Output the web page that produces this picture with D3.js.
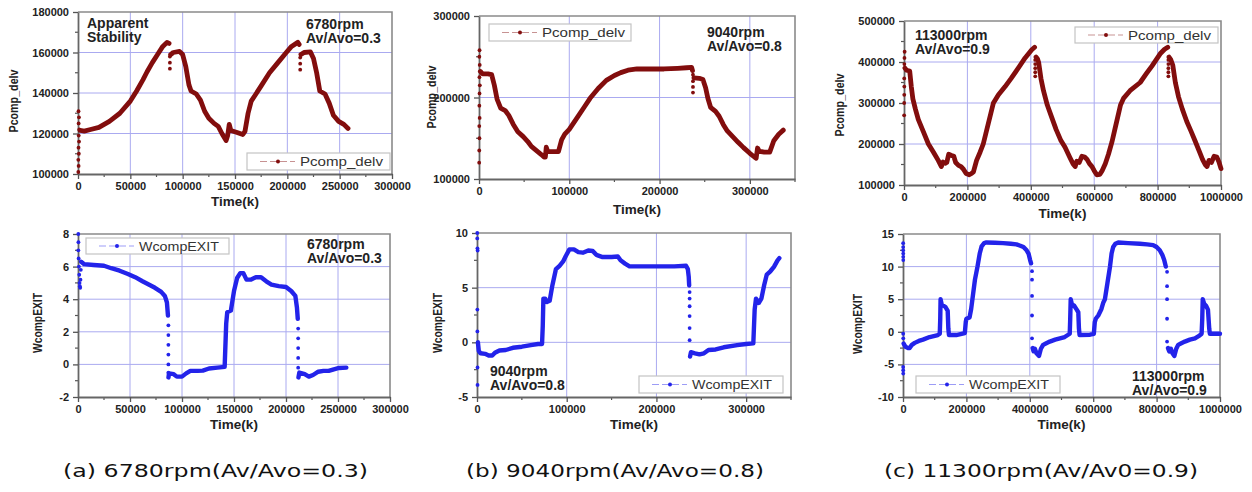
<!DOCTYPE html>
<html><head><meta charset="utf-8">
<script src="https://cdn.jsdelivr.net/npm/d3@7"></script>
<style>body{margin:0;background:#fff}svg{display:block}</style>
</head><body><svg id="c" width="1252" height="492"></svg>
<script>
// ---------- DATA ----------
// (a) 6780 rpm, Pcomp_delv
const pA = [[2000,121500],[6000,121200],[12000,122000],[20000,123000],[30000,126000],[40000,130000],[50000,136000],[56000,141000],[62000,146500],[66000,150500],[71000,155000],[76000,159000],[81000,163000],[85000,165000],[87000,164500],null,
[88500,159000],[91000,160000],[97000,160500],[100000,159000],[103000,153000],[106000,144000],[108000,141000],[113000,139500],[117000,136500],[121000,131000],[125000,127500],[130000,125000],[134000,123500],[137500,120000],[141500,116500],[143000,119000],[144500,124500],[146000,121500],[152000,120500],[157500,119500],[159500,121000],[162500,130000],[165500,136000],[170000,139500],[175000,143500],[183000,150000],[191000,155000],[199000,160000],[204000,163000],[210000,165000],[211300,164000],null,
[213000,159000],[216000,160000],[222000,160300],[225000,157000],[228000,150000],[231000,141000],[236000,139500],[240000,135000],[244000,129000],[249000,126000],[254000,124500],[258000,122500]];
const pADots = [[300,101000],[600,104000],[300,107000],[800,110000],[500,113000],[1000,116000],[700,119000],[1200,122000],[600,125000],[900,128000],[500,131000],[87800,152000],[87800,155000],[87800,158000],[212300,151500],[212300,154500],[212300,157500]];
// (a) 6780 rpm, WcompEXIT
const wA = [[3000,6.3],[6000,6.15],[15000,6.1],[25000,6.05],[32000,5.9],[40000,5.75],[48000,5.55],[55000,5.35],[62000,5.1],[68000,4.9],[74000,4.7],[80000,4.45],[83500,4.2],[85500,3.8],[86500,3.0],null,
[87000,-0.8],[87500,-0.55],[92000,-0.6],[95000,-0.75],[100000,-0.75],[104000,-0.55],[108000,-0.4],[115000,-0.4],[120000,-0.38],[126000,-0.25],[134000,-0.2],[141000,-0.15],[142500,2.5],[143500,3.2],[147000,3.3],[150000,4.5],[153000,5.3],[156000,5.6],[159000,5.6],[162000,5.2],[166000,5.2],[171000,5.35],[176000,5.35],[181000,5.1],[186000,4.9],[193000,4.8],[200000,4.75],[205000,4.5],[209000,4.2],[210500,3.5],[211300,2.8],null,
[212000,-0.8],[212800,-0.5],[218000,-0.6],[222000,-0.75],[226000,-0.65],[231000,-0.45],[236000,-0.4],[241000,-0.4],[246000,-0.3],[251000,-0.22],[258000,-0.2]];
const wADots = [[300,8.0],[400,7.5],[300,7.0],[600,6.5],[900,6.0],[1200,5.5],[1500,5.0],[1800,4.8],[2100,4.7],[2400,5.2],[2700,5.8],[86900,2.4],[86900,1.8],[86900,1.2],[86900,0.6],[86900,0.0],[86900,-0.5],[211700,2.2],[211700,1.6],[211700,1.0],[211700,0.4],[211700,-0.2]];

// (b) 9040 rpm, Pcomp_delv
const pB = [[1500,232000],[4000,229000],[10000,229000],[14000,228000],[17000,215000],[20000,198000],[24000,187000],[29000,184000],[33000,178000],[38000,167000],[43000,158000],[49000,152000],[54000,146000],[58000,140000],[64000,134500],[69000,130000],[72000,127000],[73500,127000],[74500,139000],[76000,134000],[82000,133500],[88000,133500],[91500,148000],[95000,155000],[100000,161000],[108000,174000],[117000,189000],[123000,199000],[132000,211000],[141000,221000],[150000,227000],[157000,230500],[165000,233500],[175000,235000],[190000,235000],[205000,235000],[220000,235800],[230000,236500],[235500,237000],[236500,233000],null,
[238000,224000],[244000,223500],[248000,222000],[251000,212000],[253500,199000],[256500,188000],[262000,183000],[266000,177000],[270500,167000],[275000,159000],[281000,152000],[287000,145000],[293000,138500],[300000,131500],[305000,127000],[307000,125500],[308500,138000],[310500,134000],[316000,133000],[322000,133000],[326500,147000],[332000,155000],[337000,160000]];
const pBDots = [[200,120000],[300,135000],[500,150000],[300,165000],[700,175000],[400,190000],[600,205000],[900,215000],[500,225000],[800,240000],[400,250000],[600,258000],[237000,228000],[237000,220000],[237000,213000],[237000,206000]];
// (b) 9040 rpm, WcompEXIT
const wB = [[1000,0],[2000,-0.8],[4000,-1.0],[9000,-1.05],[13000,-1.2],[17000,-1.2],[20000,-0.95],[25000,-0.75],[32000,-0.7],[40000,-0.5],[50000,-0.4],[60000,-0.25],[68000,-0.15],[72500,-0.15],[73300,1.5],[74000,4.0],[76000,4.0],[78000,3.7],[81000,3.8],[84000,5.2],[88000,6.7],[92000,7.0],[96000,7.4],[99000,7.9],[103000,8.5],[108000,8.5],[113000,8.25],[118000,8.2],[124000,8.4],[129000,8.35],[133000,8.0],[140000,7.8],[150000,7.8],[157000,7.85],[160000,7.5],[165000,7.2],[170000,6.95],[190000,6.95],[220000,6.95],[233000,7.0],[235000,6.7],[236000,6.0],[236500,5.2],null,
[237500,-1.3],[238500,-0.9],[243000,-1.0],[248000,-1.1],[253000,-1.0],[258000,-0.7],[266000,-0.65],[275000,-0.45],[290000,-0.25],[300000,-0.15],[308000,-0.1],[309500,3.0],[311000,4.0],[314000,3.6],[317000,4.0],[320000,5.2],[323000,6.2],[327000,6.5],[331000,6.9],[335000,7.5],[337000,7.7]];
const wBDots = [[300,10],[300,9.5],[500,8.6],[700,8.4],[400,3.0],[400,1.0],[600,-2.3],[600,-3.9],[237000,4.6],[237000,4.0],[237000,3.3],[237000,2.4],[237000,1.3],[237000,0.2]];

// (c) 11300 rpm, Pcomp_delv
const pC = [[3000,385000],[8000,380000],[18000,378000],[23000,340000],[28000,310000],[36000,285000],[45000,260000],[61000,230000],[77000,200000],[93000,180000],[108000,160000],[118000,145000],[123000,156000],[130000,153000],[135000,155000],[141000,175000],[150000,172000],[157000,170000],[163000,155000],[172000,148000],[180000,145000],[188000,138000],[196000,128000],[206000,125000],[213000,128000],[219000,132000],[229000,160000],[240000,180000],[250000,200000],[258000,225000],[266000,250000],[274000,275000],[282000,300000],[298000,320000],[319000,340000],[338000,360000],[356000,380000],[382000,410000],[403000,430000],[412000,436000],null,
[416500,412000],[421000,408000],[425000,398000],[432000,360000],[440000,330000],[452000,295000],[466000,265000],[480000,235000],[494000,210000],[508000,192000],[524000,166000],[533000,152000],[540000,145000],[545000,158000],[553000,155000],[561000,170000],[570000,168000],[577000,163000],[585000,152000],[593000,145000],[600000,135000],[608000,125000],[618000,126000],[625000,135000],[635000,152000],[645000,175000],[656000,205000],[665000,235000],[674000,265000],[683000,295000],[693000,312000],[713000,330000],[745000,350000],[765000,372000],[782000,390000],[808000,420000],[822000,431000],[832000,436000],null,
[836000,412000],[842000,405000],[848000,392000],[856000,350000],[866000,315000],[878000,285000],[892000,255000],[905000,232000],[918000,208000],[930000,185000],[942000,162000],[950000,150000],[956000,145000],[962000,160000],[970000,155000],[978000,170000],[987000,168000],[994000,155000],[1000000,140000]];
const pCDots = [[400,270000],[600,300000],[800,320000],[1000,340000],[700,360000],[1200,395000],[1500,410000],[2000,425000],[414000,365000],[414000,375000],[414000,385000],[414000,395000],[414000,405000],[834000,365000],[834000,375000],[834000,385000],[834000,395000],[834000,405000]];
// (c) 11300 rpm, WcompEXIT
const wC = [[2000,-1.8],[8000,-2.3],[16000,-2.5],[21000,-2.5],[28000,-2.0],[37000,-1.7],[50000,-1.4],[63000,-1.2],[84000,-0.8],[110000,-0.5],[116000,-0.3],[117500,2.0],[118500,5.0],[122000,4.2],[128000,4.0],[134000,3.8],[141000,3.2],[143000,0.5],[145000,-0.5],[168000,-0.5],[195000,-0.2],[198000,1.5],[200000,2.0],[210000,2.2],[215000,3.5],[219000,5.0],[227000,8.0],[235000,10.0],[242000,12.0],[248000,13.1],[256000,13.6],[263000,13.7],[290000,13.65],[316000,13.6],[340000,13.5],[358000,13.4],[370000,13.2],[380000,13.0],[390000,12.5],[396000,12.0],[401000,11.0],[404000,10.5],null,
[409000,-2.5],[412000,-3.0],[416000,-2.6],[421000,-3.3],[429000,-3.7],[435000,-2.6],[442000,-2.0],[452000,-1.75],[463000,-1.5],[480000,-1.2],[495000,-1.0],[510000,-0.8],[526000,-0.3],[527500,2.0],[529000,5.0],[533000,4.2],[540000,4.0],[548000,3.4],[553000,3.0],[555000,0.5],[557000,-0.5],[590000,-0.45],[602000,-0.3],[605000,1.5],[608000,2.0],[616000,2.5],[626000,3.5],[632000,4.5],[637000,5.0],[645000,7.5],[653000,10.0],[658000,12.0],[663000,13.0],[670000,13.5],[679000,13.7],[710000,13.6],[747000,13.5],[770000,13.4],[789000,13.3],[800000,13.0],[810000,12.5],[818000,11.8],[824000,11.0],[829000,10.0],null,
[836000,-2.5],[840000,-3.0],[845000,-2.6],[850000,-3.3],[856000,-3.7],[862000,-2.6],[868000,-2.0],[878000,-1.75],[889000,-1.5],[905000,-1.2],[921000,-1.0],[935000,-0.6],[942000,-0.3],[944000,2.0],[945500,5.0],[950000,4.3],[956000,4.0],[962000,3.4],[966000,0.5],[968000,-0.3],[1000000,-0.3]];
const wCDots = [[500,13.6],[500,13.0],[500,12.5],[700,12.0],[700,11.5],[800,11.0],[600,-0.3],[800,-1.0],[500,-5.4],[600,-5.9],[700,-6.4],[407000,9.3],[407000,8.0],[407000,5.5],[407000,2.5],[407000,-1.0],[833000,9.2],[833000,7.0],[833000,5.0],[833000,2.0],[833000,-1.5]];

// tick values
const xTicksA = [0,50000,100000,150000,200000,250000,300000];
const xTicksB = [0,100000,200000,300000];
const xTicksC = [0,200000,400000,600000,800000,1000000];
const yTicksPA = [100000,120000,140000,160000,180000];
const yTicksPB = [100000,200000,300000];
const yTicksPC = [100000,200000,300000,400000,500000];
const yTicksWA = [-2,0,2,4,6,8];
const yTicksWB = [-5,0,5,10];
const yTicksWC = [-10,-5,0,5,10,15];

// texts
const seriesNames = ["Pcomp_delv","WcompEXIT"];
const captions = ["(a) 6780rpm(Av/Avo=0.3)","(b) 9040rpm(Av/Avo=0.8)","(c) 11300rpm(Av/Av0=0.9)"];

// ---------- LAYOUT ----------
const RED = "#820d0d", BLUE = "#2323ea";
const panels = [
 {l:78,r:392,t:12,b:174, xd:[0,300000], xt:xTicksA, xm:25000, yd:[100000,180000], yt:yTicksPA, ym:10000,
  line:pA, dots:pADots, color:RED, sw:4.8, name:seriesNames[0], ylab:[14,101], tlabY:206,
  leg:[247,153,143,17], notes:[["Apparent",87,28],["Stability",87,42],["6780rpm",306,29],["Av/Avo=0.3",306,43]]},
 {l:479,r:795,t:16,b:179, xd:[0,350000], xt:xTicksB, xm:50000, yd:[100000,300000], yt:yTicksPB, ym:50000,
  line:pB, dots:pBDots, color:RED, sw:4.8, name:seriesNames[0], ylab:[432,97], tlabY:214,
  leg:[489,24,142,17], notes:[["9040rpm",707,37],["Av/Avo=0.8",707,51]]},
 {l:904,r:1221,t:21,b:185, xd:[0,1000000], xt:xTicksC, xm:100000, yd:[100000,500000], yt:yTicksPC, ym:50000,
  line:pC, dots:pCDots, color:RED, sw:4.8, name:seriesNames[0], ylab:[840,105], tlabY:218,
  leg:[1075,27,143,16], notes:[["113000rpm",915,40],["Av/Avo=0.9",915,54]]},
 {l:78,r:390,t:234,b:397, xd:[0,300000], xt:xTicksA, xm:25000, yd:[-2,8], yt:yTicksWA, ym:1,
  line:wA, dots:wADots, color:BLUE, sw:4.4, name:seriesNames[1], ylab:[38,323], tlabY:429,
  leg:[86,238,143,16], notes:[["6780rpm",307,249],["Av/Avo=0.3",307,263]]},
 {l:477,r:791,t:233,b:397, xd:[0,350000], xt:xTicksB, xm:50000, yd:[-5,10], yt:yTicksWB, ym:2.5,
  line:wB, dots:wBDots, color:BLUE, sw:4.4, name:seriesNames[1], ylab:[438,323], tlabY:429,
  leg:[639,376,144,17], notes:[["9040rpm",490,376],["Av/Avo=0.8",490,390]]},
 {l:903,r:1220,t:234,b:397, xd:[0,1000000], xt:xTicksC, xm:100000, yd:[-10,15], yt:yTicksWC, ym:2.5,
  line:wC, dots:wCDots, color:BLUE, sw:4.4, name:seriesNames[1], ylab:[858,324], tlabY:429,
  leg:[916,376,144,17], notes:[["113000rpm",1132,381],["Av/Avo=0.9",1132,395]]}
];
const captionPos = [[63,477,305],[466,477,298],[884,477,314]];

const svg = d3.select("#c");
const FONT = "'Liberation Sans', Arial, sans-serif";

panels.forEach((p,i) => {
  const g = svg.append("g");
  const x = d3.scaleLinear().domain(p.xd).range([p.l,p.r]);
  const y = d3.scaleLinear().domain(p.yd).range([p.b,p.t]);
  const clipId = "clip"+i;
  svg.append("clipPath").attr("id",clipId).append("rect")
    .attr("x",p.l-3).attr("y",p.t-3).attr("width",p.r-p.l+6).attr("height",p.b-p.t+6);

  // grid
  g.append("g").selectAll("line").data(p.xt.filter(v=>v>p.xd[0]&&v<p.xd[1])).join("line")
    .attr("x1",d=>x(d)).attr("x2",d=>x(d)).attr("y1",p.t).attr("y2",p.b)
    .attr("stroke","#aaaaf0").attr("stroke-width",1);
  g.append("g").selectAll("line").data(p.yt.filter(v=>v>p.yd[0]&&v<p.yd[1])).join("line")
    .attr("x1",p.l).attr("x2",p.r).attr("y1",d=>y(d)).attr("y2",d=>y(d))
    .attr("stroke","#aaaaf0").attr("stroke-width",1);

  // frame (top/right)
  g.append("path").attr("d",`M${p.l},${p.t}H${p.r}V${p.b}`).attr("fill","none")
    .attr("stroke","#8a8a8a").attr("stroke-width",1.6);

  // minor ticks
  const xm = d3.range(p.xd[0], p.xd[1]+1e-9, p.xm).filter(v=>!p.xt.includes(v));
  g.append("g").selectAll("line").data(xm).join("line")
    .attr("x1",d=>x(d)).attr("x2",d=>x(d)).attr("y1",p.b).attr("y2",p.b+3)
    .attr("stroke","#555").attr("stroke-width",1.2);
  const ym = d3.range(p.yd[0], p.yd[1]+1e-9, p.ym).filter(v=>!p.yt.includes(v));
  g.append("g").selectAll("line").data(ym).join("line")
    .attr("x1",p.l-3).attr("x2",p.l).attr("y1",d=>y(d)).attr("y2",d=>y(d))
    .attr("stroke","#555").attr("stroke-width",1.2);

  // axes
  const ax = g.append("g").attr("transform",`translate(0,${p.b})`)
    .call(d3.axisBottom(x).tickValues(p.xt).tickSize(5).tickSizeOuter(0).tickPadding(3).tickFormat(d=>String(d)));
  const ay = g.append("g").attr("transform",`translate(${p.l},0)`)
    .call(d3.axisLeft(y).tickValues(p.yt).tickSize(5).tickSizeOuter(0).tickPadding(4).tickFormat(d=>String(d)));
  [ax,ay].forEach(a=>{
    a.select(".domain").attr("stroke","#666").attr("stroke-width",1.8);
    a.selectAll(".tick line").attr("stroke","#555").attr("stroke-width",1.3);
    a.selectAll("text").attr("font-family",FONT).attr("font-weight","bold").attr("font-size",11).attr("fill","#222");
  });

  // curve
  const lineGen = d3.line().defined(d=>d!==null).x(d=>x(d[0])).y(d=>y(d[1]));
  const cg = g.append("g").attr("clip-path",`url(#${clipId})`);
  cg.append("path").datum(p.line).attr("d",lineGen).attr("fill","none")
    .attr("stroke",p.color).attr("stroke-width",p.sw).attr("stroke-linejoin","round").attr("stroke-linecap","round");
  cg.selectAll("circle").data(p.dots).join("circle")
    .attr("cx",d=>x(d[0])).attr("cy",d=>y(d[1])).attr("r",1.9).attr("fill",p.color);

  // axis titles
  g.append("text").attr("x",(p.l+p.r)/2).attr("y",p.tlabY).attr("text-anchor","middle")
    .attr("font-family",FONT).attr("font-weight","bold").attr("font-size",13.5).attr("fill","#222").text("Time(k)");
  g.append("text").attr("transform",`translate(${p.ylab[0]},${p.ylab[1]}) rotate(-90)`)
    .attr("text-anchor","middle").attr("dominant-baseline","central")
    .attr("font-family",FONT).attr("font-weight","bold").attr("font-size",12).attr("fill","#222")
    .attr("textLength",p.name==="WcompEXIT"?60:63).attr("lengthAdjust","spacingAndGlyphs").text(p.name);

  // legend
  const [lx,ly,lw,lh] = p.leg;
  const lg = g.append("g");
  lg.append("rect").attr("x",lx).attr("y",ly).attr("width",lw).attr("height",lh)
    .attr("fill","#fff").attr("stroke","#c4c4c4").attr("stroke-width",1.2);
  lg.append("line").attr("x1",lx+13).attr("x2",lx+48).attr("y1",ly+lh/2).attr("y2",ly+lh/2)
    .attr("stroke",p.color).attr("stroke-opacity",0.45).attr("stroke-width",1).attr("stroke-dasharray","7,3");
  lg.append("circle").attr("cx",lx+31).attr("cy",ly+lh/2).attr("r",2).attr("fill",p.color);
  lg.append("text").attr("x",lx+53).attr("y",ly+lh/2).attr("dominant-baseline","central")
    .attr("font-family",FONT).attr("font-size",13).attr("fill","#333")
    .attr("textLength",p.name==="WcompEXIT"?80:83).attr("lengthAdjust","spacingAndGlyphs").text(p.name);

  // annotations
  g.selectAll("text.note").data(p.notes).join("text").attr("class","note")
    .attr("x",d=>d[1]).attr("y",d=>d[2]).attr("font-family",FONT).attr("font-weight","bold")
    .attr("font-size",14).attr("fill","#222").text(d=>d[0]);
});

// captions
svg.selectAll("text.cap").data(captions).join("text").attr("class","cap")
  .attr("x",(d,i)=>captionPos[i][0]).attr("y",(d,i)=>captionPos[i][1])
  .attr("textLength",(d,i)=>captionPos[i][2]).attr("lengthAdjust","spacingAndGlyphs")
  .attr("font-family","'DejaVu Sans', sans-serif").attr("font-size",18).attr("fill","#111")
  .text(d=>d);
</script></body></html>
